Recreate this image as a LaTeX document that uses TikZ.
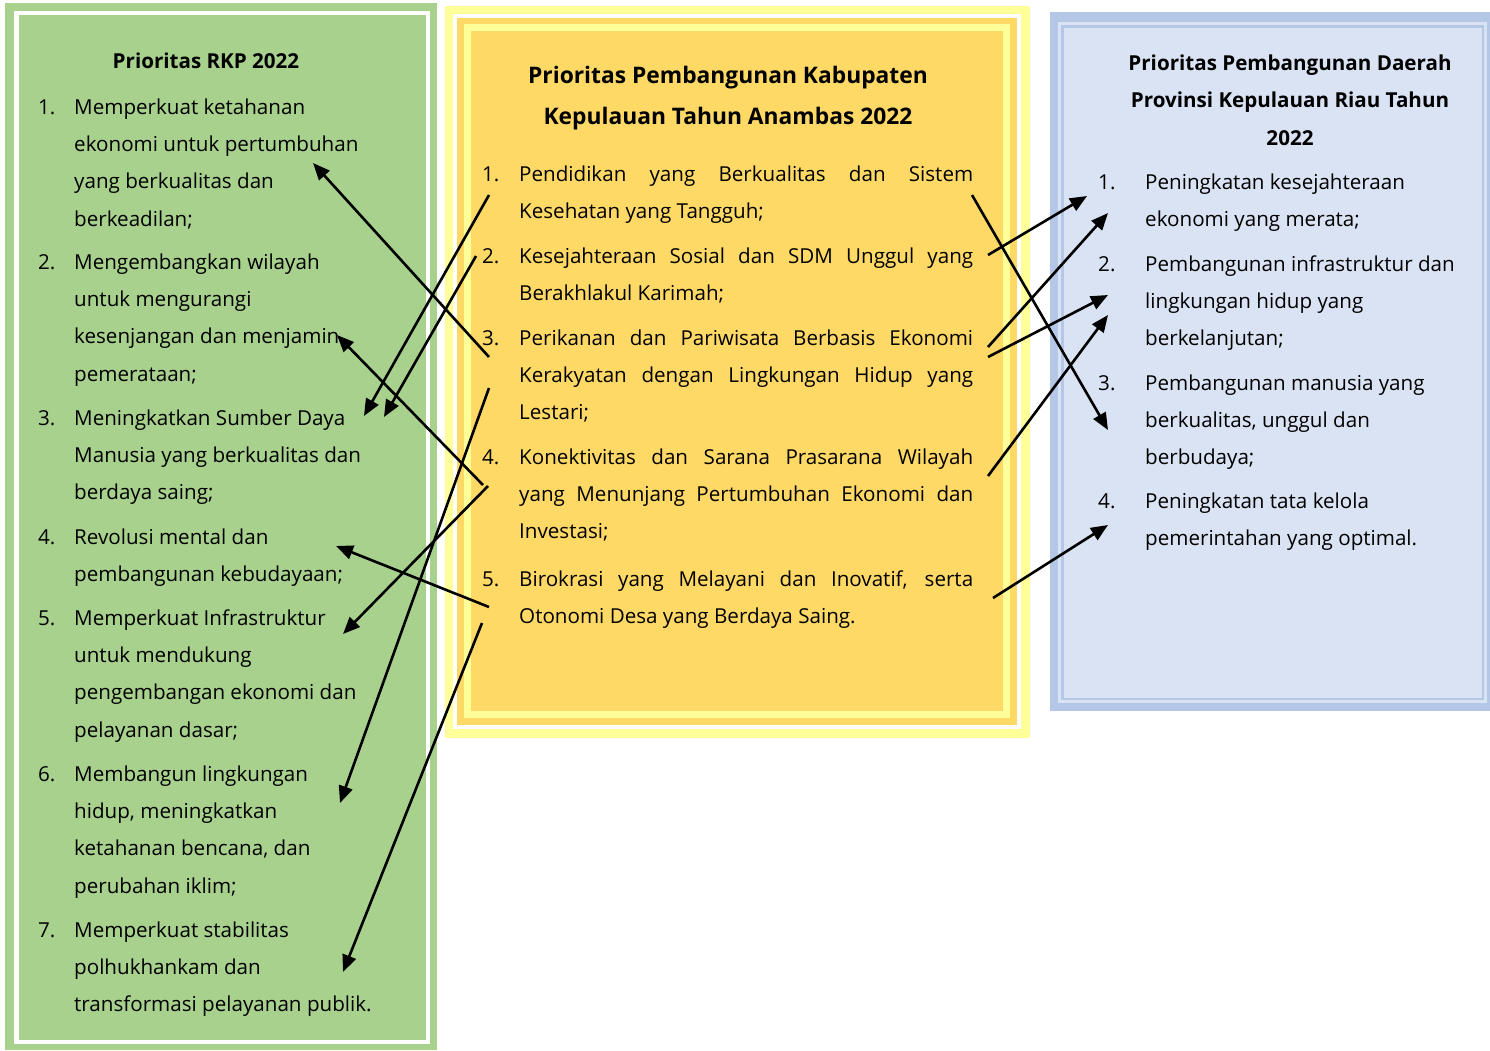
\documentclass[tikz,border=0pt]{standalone}
\usepackage{fontspec}
\setmainfont{Open Sans}
\usepackage{xcolor}
\usepackage{tikz}
\usetikzlibrary{arrows.meta, positioning}

\definecolor{rkpgreen}{HTML}{A9D18E}
\definecolor{kabpale}{HTML}{FFFF99}
\definecolor{kabgold}{HTML}{FFD966}
\definecolor{riaublue}{HTML}{B4C7E7}
\definecolor{riaupale}{HTML}{DAE3F3}

\begin{document}
\begin{tikzpicture}[x=1pt, y=-1pt,
    >={Triangle[length=17pt,width=14pt]},
    item/.style={anchor=north west, inner sep=0pt, align=left,
        font=\fontsize{20.6}{37.3}\selectfont},
    head/.style={inner sep=0pt, align=center,
        font=\bfseries\fontsize{20.6}{37.5}\selectfont},
    link/.style={->, line width=2.6pt}]
    \useasboundingbox (0,0) rectangle (1490,1050);

    % frames
    \fill[rkpgreen] (5,3) rectangle (437,1050);
    \draw[white, line width=4.5pt] (16.5,13) rectangle (428,1042);

    \fill[kabpale] (445,6) rectangle (1030,738);
    \draw[white, line width=4.5pt] (455,16) rectangle (1019,727);
    \fill[kabgold] (457.3,18.3) rectangle (1016.7,724.7);
    \draw[kabpale, line width=7pt] (467.5,27.5) rectangle (1006.5,714.5);

    \fill[riaublue] (1050,12) rectangle (1490,711);
    \fill[riaupale] (1058,22) rectangle (1487,703);
    \fill[riaublue] (1061,25) rectangle (1484,700);
    \fill[riaupale] (1063.5,28) rectangle (1481.5,697.5);

    % RKP
    \node[head] (rkp) at (206,61) {Prioritas RKP 2022};
    \node[item] (g1) at (74,88) {\strut\llap{\makebox[36pt][l]{1.}}Memperkuat ketahanan\\ekonomi untuk pertumbuhan\\yang berkualitas dan\\berkeadilan;};
    \node[item] (g2) at (74,243) {\strut\llap{\makebox[36pt][l]{2.}}Mengembangkan wilayah\\untuk mengurangi\\kesenjangan dan menjamin\\pemerataan;};
    \node[item] (g3) at (74,399) {\strut\llap{\makebox[36pt][l]{3.}}Meningkatkan Sumber Daya\\Manusia yang berkualitas dan\\berdaya saing;};
    \node[item] (g4) at (74,518) {\strut\llap{\makebox[36pt][l]{4.}}Revolusi mental dan\\pembangunan kebudayaan;};
    \node[item] (g5) at (74,599) {\strut\llap{\makebox[36pt][l]{5.}}Memperkuat Infrastruktur\\untuk mendukung\\pengembangan ekonomi dan\\pelayanan dasar;};
    \node[item] (g6) at (74,755) {\strut\llap{\makebox[36pt][l]{6.}}Membangun lingkungan\\hidup, meningkatkan\\ketahanan bencana, dan\\perubahan iklim;};
    \node[item] (g7) at (74,911) {\strut\llap{\makebox[36pt][l]{7.}}Memperkuat stabilitas\\polhukhankam dan\\transformasi pelayanan publik.};

    % Kabupaten
    \node[head, font=\bfseries\fontsize{22.8}{41}\selectfont] (kab) at (728,98.5) {Prioritas Pembangunan Kabupaten\\Kepulauan Tahun Anambas 2022};
    \node[item] (k1) at (519,155) {\strut\llap{\makebox[37pt][l]{1.}}\makebox[454pt][s]{Pendidikan yang Berkualitas dan Sistem}\\Kesehatan yang Tangguh;};
    \node[item] (k2) at (519,237) {\strut\llap{\makebox[37pt][l]{2.}}\makebox[454pt][s]{Kesejahteraan Sosial dan SDM Unggul yang}\\Berakhlakul Karimah;};
    \node[item] (k3) at (519,319) {\strut\llap{\makebox[37pt][l]{3.}}\makebox[454pt][s]{Perikanan dan Pariwisata Berbasis Ekonomi}\\\makebox[454pt][s]{Kerakyatan dengan Lingkungan Hidup yang}\\Lestari;};
    \node[item] (k4) at (519,438) {\strut\llap{\makebox[37pt][l]{4.}}\makebox[454pt][s]{Konektivitas dan Sarana Prasarana Wilayah}\\\makebox[454pt][s]{yang Menunjang Pertumbuhan Ekonomi dan}\\Investasi;};
    \node[item] (k5) at (519,560) {\strut\llap{\makebox[37pt][l]{5.}}\makebox[454pt][s]{Birokrasi yang Melayani dan Inovatif, serta}\\Otonomi Desa yang Berdaya Saing.};

    % Riau
    \node[head] (riau) at (1290,100) {Prioritas Pembangunan Daerah\\Provinsi Kepulauan Riau Tahun\\2022};
    \node[item] (p1) at (1145,163) {\strut\llap{\makebox[47pt][l]{1.}}Peningkatan kesejahteraan\\ekonomi yang merata;};
    \node[item] (p2) at (1145,245) {\strut\llap{\makebox[47pt][l]{2.}}Pembangunan infrastruktur dan\\lingkungan hidup yang\\berkelanjutan;};
    \node[item] (p3) at (1145,364) {\strut\llap{\makebox[47pt][l]{3.}}Pembangunan manusia yang\\berkualitas, unggul dan\\berbudaya;};
    \node[item] (p4) at (1145,482) {\strut\llap{\makebox[47pt][l]{4.}}Peningkatan tata kelola\\pemerintahan yang optimal.};

    % links to RKP
    \draw[link] ([shift={(-30,38)}]k3.north west) -- ([shift={(239,75)}]g1.north west);
    \draw[link] ([shift={(-30,40)}]k1.north west) -- ([shift={(290,17)}]g3.north west);
    \draw[link] ([shift={(-43,19)}]k2.north west) -- ([shift={(310,18)}]g3.north west);
    \draw[link] ([shift={(-36,47)}]k4.north west) -- ([shift={(263,92)}]g2.north west);
    \draw[link] ([shift={(-31,48)}]k4.north west) -- ([shift={(269,35)}]g5.north west);
    \draw[link] ([shift={(-30,47)}]k5.north west) -- ([shift={(262,28)}]g4.north west);
    \draw[link] ([shift={(-30,69)}]k3.north west) -- ([shift={(266,48)}]g6.north west);
    \draw[link] ([shift={(-37,63)}]k5.north west) -- ([shift={(269,61)}]g7.north west);

    % links to Riau
    \draw[link] ([shift={(453,40)}]k1.north west) -- ([shift={(-37,66)}]p3.north west);
    \draw[link] ([shift={(469,18)}]k2.north west) -- ([shift={(-58,33)}]p1.north west);
    \draw[link] ([shift={(469,28)}]k3.north west) -- ([shift={(-37,50)}]p1.north west);
    \draw[link] ([shift={(469,38)}]k3.north west) -- ([shift={(-37,50)}]p2.north west);
    \draw[link] ([shift={(469,38)}]k4.north west) -- ([shift={(-37,70)}]p2.north west);
    \draw[link] ([shift={(474,38)}]k5.north west) -- ([shift={(-37,43)}]p4.north west);
\end{tikzpicture}
\end{document}
